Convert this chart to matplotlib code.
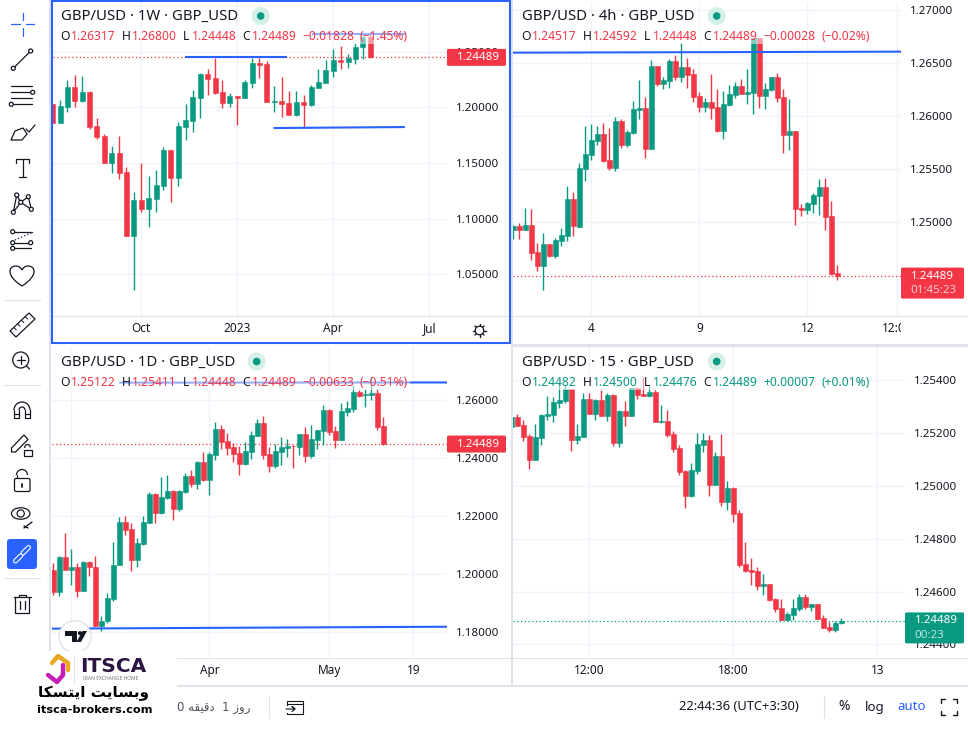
import matplotlib
matplotlib.use("Agg")
import matplotlib.pyplot as plt
from matplotlib.patches import Arc, Circle, Ellipse, FancyBboxPatch, PathPatch, Polygon, Rectangle
from matplotlib.path import Path

W, H = 968, 732
UP = "#089981"
DOWN = "#F23645"
INK = "#131722"
GRID = "#F0F3FA"
EDGE = "#E0E3EB"
BLUE = "#2962FF"
FONT = "Noto Sans"

# weekly candles
w_open = [1.2030, 1.1862, 1.2006, 1.2180, 1.2060, 1.2138, 1.1832, 1.1743, 1.1503, 1.1587, 1.1419, 1.0847, 1.1168, 1.1087, 1.1180, 1.1296, 1.1617, 1.1368, 1.1826, 1.1880, 1.2087, 1.2299, 1.2263, 1.2138, 1.2039, 1.2102, 1.2087, 1.2222, 1.2398, 1.2389, 1.2051, 1.2057, 1.2039, 1.1931, 1.2048, 1.2021, 1.2174, 1.2222, 1.2329, 1.2422, 1.2410, 1.2434, 1.2545, 1.26317]
w_high = [1.2030, 1.2066, 1.2245, 1.2290, 1.2281, 1.2147, 1.1904, 1.1757, 1.1653, 1.1743, 1.1461, 1.1240, 1.1497, 1.1383, 1.1437, 1.1644, 1.1617, 1.1865, 1.2030, 1.2156, 1.2308, 1.2344, 1.2446, 1.2245, 1.2129, 1.2102, 1.2245, 1.2440, 1.2446, 1.2416, 1.2192, 1.2272, 1.2147, 1.2147, 1.2111, 1.2198, 1.2344, 1.2425, 1.2524, 1.2551, 1.2479, 1.2581, 1.2641, 1.26800]
w_low = [1.1862, 1.1862, 1.1961, 1.2006, 1.2051, 1.1802, 1.1719, 1.1503, 1.1413, 1.1359, 1.0847, 1.0359, 1.1063, 1.0928, 1.1063, 1.1257, 1.1153, 1.1296, 1.1707, 1.1781, 1.1907, 1.2111, 1.2120, 1.1997, 1.2006, 1.1841, 1.2087, 1.2177, 1.2266, 1.2051, 1.1961, 1.1916, 1.1934, 1.1925, 1.1811, 1.2012, 1.2174, 1.2222, 1.2272, 1.2344, 1.2353, 1.2389, 1.2434, 1.24448]
w_close = [1.1862, 1.2012, 1.2180, 1.2060, 1.2138, 1.1826, 1.1737, 1.1503, 1.1587, 1.1413, 1.0847, 1.1168, 1.1087, 1.1186, 1.1302, 1.1617, 1.1368, 1.1832, 1.1886, 1.2093, 1.2299, 1.2257, 1.2132, 1.2042, 1.2102, 1.2087, 1.2228, 1.2398, 1.2383, 1.2051, 1.2057, 1.2033, 1.1934, 1.2048, 1.2021, 1.2183, 1.2228, 1.2335, 1.2425, 1.2410, 1.2443, 1.2545, 1.2632, 1.24489]

# 4h candles
h4_open = [1.24924, 1.24962, 1.24924, 1.24969, 1.24713, 1.24587, 1.24789, 1.24679, 1.24824, 1.24868, 1.25217, 1.24956, 1.25501, 1.25633, 1.25769, 1.25832, 1.25586, 1.25513, 1.25958, 1.25728, 1.25838, 1.26058, 1.26077, 1.25690, 1.26474, 1.26304, 1.26336, 1.26521, 1.26370, 1.26465, 1.26399, 1.26191, 1.26087, 1.26134, 1.26087, 1.25860, 1.26106, 1.26200, 1.26285, 1.26210, 1.26222, 1.26736, 1.26191, 1.26247, 1.26367, 1.26181, 1.25822, 1.25860, 1.25132, 1.25117, 1.25170, 1.25246, 1.25331, 1.25057, 1.24517]
h4_high = [1.24972, 1.24987, 1.25132, 1.25123, 1.24805, 1.24893, 1.24789, 1.24849, 1.24940, 1.25340, 1.25287, 1.25554, 1.25907, 1.25926, 1.25907, 1.25932, 1.25885, 1.25989, 1.25970, 1.25869, 1.26140, 1.26342, 1.26181, 1.26531, 1.26474, 1.26373, 1.26540, 1.26578, 1.26688, 1.26547, 1.26446, 1.26225, 1.26169, 1.26399, 1.26257, 1.26238, 1.26295, 1.26326, 1.26351, 1.26446, 1.26736, 1.26736, 1.26310, 1.26367, 1.26408, 1.26257, 1.26162, 1.25860, 1.25170, 1.25192, 1.25277, 1.25406, 1.25416, 1.25198, 1.24592]
h4_low = [1.24843, 1.24839, 1.24924, 1.24641, 1.24537, 1.24357, 1.24672, 1.24663, 1.24773, 1.24824, 1.24868, 1.24956, 1.25391, 1.25586, 1.25728, 1.25567, 1.25491, 1.25482, 1.25696, 1.25712, 1.25832, 1.25970, 1.25608, 1.25690, 1.26285, 1.26257, 1.26269, 1.26342, 1.26326, 1.26263, 1.26137, 1.26043, 1.26043, 1.25973, 1.25847, 1.25784, 1.26096, 1.26169, 1.26210, 1.26112, 1.26021, 1.26080, 1.26068, 1.26241, 1.26137, 1.25655, 1.25680, 1.24972, 1.25057, 1.25079, 1.25082, 1.25066, 1.24924, 1.24499, 1.24448]
h4_close = [1.24965, 1.24924, 1.24969, 1.24710, 1.24587, 1.24789, 1.24682, 1.24830, 1.24874, 1.25214, 1.24962, 1.25510, 1.25643, 1.25775, 1.25832, 1.25576, 1.25513, 1.25954, 1.25728, 1.25851, 1.26068, 1.26077, 1.25690, 1.26474, 1.26304, 1.26342, 1.26518, 1.26373, 1.26465, 1.26392, 1.26181, 1.26090, 1.26134, 1.26080, 1.25860, 1.26112, 1.26210, 1.26285, 1.26210, 1.26229, 1.26736, 1.26191, 1.26257, 1.26367, 1.26172, 1.25825, 1.25860, 1.25123, 1.25117, 1.25180, 1.25252, 1.25331, 1.25047, 1.24509, 1.24489]

# daily candles
d_open = [1.20149, 1.19368, 1.20598, 1.20149, 1.20253, 1.19425, 1.20425, 1.20253, 1.18218, 1.18368, 1.19149, 1.20299, 1.21805, 1.21563, 1.20494, 1.21046, 1.21770, 1.22770, 1.22115, 1.22632, 1.22874, 1.22253, 1.22839, 1.23391, 1.23115, 1.23873, 1.23253, 1.24115, 1.25011, 1.24598, 1.24379, 1.24184, 1.23793, 1.24218, 1.24770, 1.25218, 1.24149, 1.23736, 1.24218, 1.24356, 1.24437, 1.24391, 1.24839, 1.24080, 1.24632, 1.24942, 1.25666, 1.24942, 1.24632, 1.25598, 1.25701, 1.26287, 1.26172, 1.26184, 1.26253, 1.25122]
d_high = [1.20379, 1.20632, 1.21414, 1.20874, 1.20379, 1.20448, 1.20460, 1.20632, 1.18563, 1.19356, 1.21115, 1.21977, 1.22011, 1.21770, 1.21253, 1.22011, 1.22839, 1.22805, 1.23356, 1.23425, 1.22908, 1.22908, 1.23494, 1.23598, 1.23908, 1.24218, 1.24218, 1.25253, 1.25149, 1.24873, 1.24517, 1.24425, 1.24552, 1.24942, 1.25356, 1.25460, 1.24391, 1.24494, 1.24736, 1.24667, 1.24460, 1.24839, 1.25080, 1.25149, 1.24977, 1.25839, 1.25701, 1.25115, 1.25908, 1.25977, 1.26529, 1.26356, 1.26391, 1.26804, 1.26391, 1.25411]
d_low = [1.19264, 1.19230, 1.20149, 1.19632, 1.19218, 1.19425, 1.19920, 1.18195, 1.18023, 1.18310, 1.19057, 1.20299, 1.21356, 1.20092, 1.20253, 1.21011, 1.21770, 1.21770, 1.22080, 1.22598, 1.21874, 1.22184, 1.22805, 1.23011, 1.22942, 1.23218, 1.22736, 1.23942, 1.24322, 1.24115, 1.23873, 1.23425, 1.23770, 1.23977, 1.24770, 1.23977, 1.23529, 1.23667, 1.23770, 1.24046, 1.23667, 1.24115, 1.23873, 1.24011, 1.24322, 1.24460, 1.24804, 1.24356, 1.24632, 1.25460, 1.25598, 1.26115, 1.25770, 1.26011, 1.24977, 1.24448]
d_close = [1.19368, 1.20598, 1.20149, 1.20253, 1.19425, 1.20425, 1.20230, 1.18218, 1.18391, 1.19172, 1.20322, 1.21805, 1.21529, 1.20494, 1.21080, 1.21805, 1.22770, 1.22115, 1.22667, 1.22874, 1.22253, 1.22874, 1.23391, 1.23115, 1.23873, 1.23253, 1.24149, 1.25011, 1.24563, 1.24356, 1.24149, 1.23805, 1.24253, 1.24804, 1.25218, 1.24115, 1.23736, 1.24253, 1.24391, 1.24425, 1.24414, 1.24839, 1.24080, 1.24667, 1.24977, 1.25666, 1.24908, 1.24632, 1.25632, 1.25736, 1.26287, 1.26149, 1.26218, 1.26241, 1.25080, 1.24489]

# 15 minute candles
m15_open = [1.25222, 1.25260, 1.25229, 1.25187, 1.25097, 1.25180, 1.25263, 1.25266, 1.25312, 1.25319, 1.25364, 1.25172, 1.25183, 1.25327, 1.25270, 1.25323, 1.25263, 1.25342, 1.25161, 1.25281, 1.25263, 1.25367, 1.25345, 1.25338, 1.25353, 1.25240, 1.25244, 1.25195, 1.25142, 1.25055, 1.24961, 1.25055, 1.25153, 1.25172, 1.25003, 1.25112, 1.24938, 1.24991, 1.24897, 1.24705, 1.24681, 1.24678, 1.24622, 1.24629, 1.24573, 1.24539, 1.24494, 1.24513, 1.24535, 1.24580, 1.24543, 1.24554, 1.24501, 1.24467, 1.24456, 1.24482]
m15_high = [1.25260, 1.25270, 1.25247, 1.25195, 1.25232, 1.25270, 1.25338, 1.25334, 1.25386, 1.25379, 1.25364, 1.25232, 1.25351, 1.25349, 1.25327, 1.25361, 1.25348, 1.25345, 1.25285, 1.25319, 1.25367, 1.25367, 1.25408, 1.25377, 1.25361, 1.25304, 1.25285, 1.25206, 1.25153, 1.25059, 1.25085, 1.25198, 1.25198, 1.25191, 1.25127, 1.25195, 1.25018, 1.24994, 1.24908, 1.24788, 1.24727, 1.24693, 1.24667, 1.24629, 1.24577, 1.24573, 1.24524, 1.24573, 1.24592, 1.24592, 1.24554, 1.24554, 1.24513, 1.24486, 1.24490, 1.24500]
m15_low = [1.25201, 1.25225, 1.25168, 1.25063, 1.25097, 1.25153, 1.25247, 1.25240, 1.25293, 1.25313, 1.25131, 1.25157, 1.25183, 1.25270, 1.25247, 1.25263, 1.25244, 1.25149, 1.25146, 1.25225, 1.25263, 1.25327, 1.25338, 1.25334, 1.25240, 1.25236, 1.25183, 1.25128, 1.25040, 1.24916, 1.24957, 1.25044, 1.25127, 1.24961, 1.25003, 1.24923, 1.24908, 1.24863, 1.24693, 1.24673, 1.24626, 1.24607, 1.24588, 1.24565, 1.24524, 1.24494, 1.24490, 1.24494, 1.24528, 1.24535, 1.24528, 1.24497, 1.24464, 1.24448, 1.24448, 1.24476]
m15_close = [1.25260, 1.25225, 1.25183, 1.25097, 1.25183, 1.25266, 1.25270, 1.25315, 1.25323, 1.25364, 1.25172, 1.25187, 1.25327, 1.25270, 1.25323, 1.25263, 1.25342, 1.25161, 1.25281, 1.25263, 1.25367, 1.25342, 1.25338, 1.25352, 1.25240, 1.25242, 1.25191, 1.25138, 1.25052, 1.24961, 1.25059, 1.25157, 1.25172, 1.25003, 1.25112, 1.24938, 1.24991, 1.24893, 1.24701, 1.24677, 1.24675, 1.24622, 1.24629, 1.24569, 1.24535, 1.24494, 1.24516, 1.24539, 1.24580, 1.24543, 1.24554, 1.24497, 1.24464, 1.24456, 1.24482, 1.24489]

last_price = 1.24489

# drawn trend lines: (x0, x1, y0, y1) in candle index and price
w_lines = [(17.9, 31.8, 1.2449, 1.2449), (35.1, 47.7, 1.2662, 1.2662), (29.9, 47.7, 1.1814, 1.1823)]
h4_lines = [(-2, 66, 1.26600, 1.26610)]
d_lines = [(11, 67, 1.26609, 1.26615), (-2, 67, 1.18115, 1.18184)]

w_yticks = [1.05, 1.10, 1.15, 1.20, 1.25]
h4_yticks = [1.25, 1.255, 1.26, 1.265, 1.27]
d_yticks = [1.18, 1.20, 1.22, 1.24, 1.26]
m15_yticks = [1.244, 1.246, 1.248, 1.25, 1.252, 1.254]

w_xticks, w_xlabels = [12, 25, 38, 51], ["Oct", "2023", "Apr", "Jul"]
h4_xticks, h4_xlabels = [13, 31, 49, 64], ["4", "9", "12", "12:00"]
d_xticks, d_xlabels = [3, 26, 46, 60], ["", "Apr", "May", "19"]
m15_xticks, m15_xlabels = [13, 37, 61], ["12:00", "18:00", "13"]

w_legend = ["1.26317", "1.26800", "1.24448", "1.24489", "\u22120.01828", "(\u22121.45%)"]
h4_legend = ["1.24517", "1.24592", "1.24448", "1.24489", "\u22120.00028", "(\u22120.02%)"]
d_legend = ["1.25122", "1.25411", "1.24448", "1.24489", "\u22120.00633", "(\u22120.51%)"]
m15_legend = ["1.24482", "1.24500", "1.24476", "1.24489", "+0.00007", "(+0.01%)"]

plt.rcParams["font.family"] = [FONT, "DejaVu Sans"]
fig = plt.figure(figsize=(W / 100, H / 100), dpi=100, facecolor="white")


def add_pane(left, right, top, bottom, xlim, ylim, xticks, xlabels, yticks):
    ax = fig.add_axes([left / W, 1 - bottom / H, (right - left) / W, (bottom - top) / H])
    ax.set_xlim(*xlim)
    ax.set_ylim(*ylim)
    for s in ["top", "left", "right"]:
        ax.spines[s].set_visible(False)
    ax.spines["bottom"].set_color(EDGE)
    ax.yaxis.tick_right()
    ax.set_yticks(yticks)
    ax.set_yticklabels(["%.5f" % v for v in yticks])
    ax.set_xticks(xticks)
    ax.set_xticklabels(xlabels)
    ax.tick_params(axis="y", length=0, pad=6.5, labelsize=8.3, labelcolor=INK)
    ax.tick_params(axis="x", length=0, pad=4.5, labelsize=8.5, labelcolor=INK)
    ax.grid(True, color=GRID, linewidth=1)
    ax.set_axisbelow(True)
    return ax


def candles(ax, o, h, l, c, width):
    xs = list(range(len(o)))
    colors = [UP if c[i] >= o[i] else DOWN for i in xs]
    ax.vlines(xs, l, h, colors=colors, linewidth=1, zorder=3)
    tops = [max(o[i], c[i]) - min(o[i], c[i]) for i in xs]
    bots = [min(o[i], c[i]) for i in xs]
    ax.bar(xs, tops, width=width, bottom=bots, color=colors, edgecolor=colors, linewidth=0.4, zorder=3)


def trend_lines(ax, lines):
    for x0, x1, y0, y1 in lines:
        ax.plot([x0, x1], [y0, y1], color=BLUE, linewidth=1.5, zorder=4, solid_capstyle="butt")


ax_w = add_pane(53, 447, 2, 316, (0.05, 53.4), (1.01258, 1.29461), w_xticks, w_xlabels, w_yticks)
ax_h4 = add_pane(513, 901, 2, 316, (-0.06, 64.6), (1.24112, 1.27079), h4_xticks, h4_xlabels, h4_yticks)
ax_d = add_pane(52, 447, 347, 658, (-0.22, 65.6), (1.17103, 1.27839), d_xticks, d_xlabels, d_yticks)
ax_m = add_pane(513, 905, 347, 658, (0.28, 65.6), (1.24349, 1.25523), m15_xticks, m15_xlabels, m15_yticks)
ax_w.get_xticklabels()[1].set_fontweight("bold")

candles(ax_w, w_open, w_high, w_low, w_close, 0.68)
candles(ax_h4, h4_open, h4_high, h4_low, h4_close, 0.83)
candles(ax_d, d_open, d_high, d_low, d_close, 0.83)
candles(ax_m, m15_open, m15_high, m15_low, m15_close, 0.83)

trend_lines(ax_w, w_lines)
trend_lines(ax_h4, h4_lines)
trend_lines(ax_d, d_lines)

# dotted last price
for ax, col in [(ax_w, DOWN), (ax_h4, DOWN), (ax_d, DOWN), (ax_m, UP)]:
    ax.axhline(last_price, color=col, linewidth=0.9, linestyle=(0, (1, 2)), zorder=2)

# everything else is chrome, drawn in pixel coordinates on top
ov = fig.add_axes([0, 0, 1, 1], zorder=10)
ov.set_xlim(0, W)
ov.set_ylim(H, 0)
ov.axis("off")
ov.patch.set_alpha(0)


def seg(xs, ys, color=INK, lw=0.9, **kw):
    ov.plot(xs, ys, color=color, linewidth=lw, solid_capstyle=kw.pop("cap", "round"), zorder=kw.pop("zorder", 6), **kw)


def dot(x, y, r=2.0, fc="white", ec=INK, lw=0.9):
    ov.add_patch(Circle((x, y), r, facecolor=fc, edgecolor=ec, linewidth=lw, zorder=7))


def label(x, y, s, color=INK, size=8.5, ha="left", weight="normal", **kw):
    return ov.text(x, y, s, color=color, fontsize=size, ha=ha, va="center", fontweight=weight, zorder=kw.pop("zorder", 8), **kw)


# white under the price column so that the "12:00" label gets cut off
ov.add_patch(Rectangle((901, 317), 67, 27, facecolor="white", edgecolor="none", zorder=1))

# gutters
ov.add_patch(Rectangle((48.5, 0), 2.5, 686, facecolor=EDGE, edgecolor="none", zorder=2))
ov.add_patch(Rectangle((510.5, 0), 2, 686, facecolor=EDGE, edgecolor="none", zorder=2))
ov.add_patch(Rectangle((511, 344), 457, 2.5, facecolor=EDGE, edgecolor="none", zorder=2))
ov.add_patch(Rectangle((51, 685), 917, 1.5, facecolor=EDGE, edgecolor="none", zorder=2))
seg([447, 510], [316, 316], color=EDGE, lw=0.8)
seg([447, 511], [658, 658], color=EDGE, lw=0.8)
seg([901, 968], [316, 316], color=EDGE, lw=0.8)
seg([905, 968], [658, 658], color=EDGE, lw=0.8)
ov.add_patch(Rectangle((52, 1), 458, 342, facecolor="none", edgecolor=BLUE, linewidth=1.5, zorder=7))

# pane legends
seg_x = [60, 70.7, 121.7, 132, 183, 191.7, 242, 251.7, 302.7, 360]
for x0, y0, title, values, col, dot_x in [
    (0, 0, "GBP/USD \u00b7 1W \u00b7 GBP_USD", w_legend, DOWN, 260.7),
    (461, 0, "GBP/USD \u00b7 4h \u00b7 GBP_USD", h4_legend, DOWN, 716.7),
    (0, 345.5, "GBP/USD \u00b7 1D \u00b7 GBP_USD", d_legend, DOWN, 256.7),
    (461, 345.5, "GBP/USD \u00b7 15 \u00b7 GBP_USD", m15_legend, UP, 716.7),
]:
    ov.add_patch(Rectangle((x0 + 57, y0 + 30), 353, 14, facecolor="white", edgecolor="none", alpha=0.5, zorder=3))
    label(x0 + 61, y0 + 16.5, title, size=10.7)
    ov.add_patch(Circle((dot_x, y0 + 16), 9, facecolor="#D5EFE9", edgecolor="none", zorder=4))
    ov.add_patch(Circle((dot_x, y0 + 16), 3.8, facecolor=UP, edgecolor="none", zorder=5))
    for i, letter in enumerate("OHLC"):
        label(x0 + seg_x[i * 2], y0 + 36.5, letter, size=8.7)
        label(x0 + seg_x[i * 2 + 1], y0 + 36.5, values[i], color=col, size=8.7)
    label(x0 + seg_x[8], y0 + 36.5, values[4], color=col, size=8.7)
    label(x0 + seg_x[9], y0 + 36.5, values[5], color=col, size=8.7)


def tag(ax, x0, x1, h, color, lines):
    y = H - ax.transData.transform((0, last_price))[1]
    top = y - 8.5
    ov.add_patch(FancyBboxPatch((x0 + 1, top + 1), x1 - x0 - 2, h - 2, boxstyle="round,pad=1,rounding_size=1.5",
                                facecolor=color, edgecolor="none", zorder=7))
    label(x0 + 9.5, y, lines[0], color="white", size=8.3, zorder=9)
    if len(lines) > 1:
        label(x0 + 9.5, y + 14.5, lines[1], color="white", size=8.3, alpha=0.75, zorder=9)


price_text = "%.5f" % last_price
tag(ax_w, 447, 506, 17, DOWN, [price_text])
tag(ax_d, 447, 506, 17, DOWN, [price_text])
tag(ax_h4, 901, 964, 31, DOWN, [price_text, "01:45:23"])
tag(ax_m, 905, 964, 31, UP, [price_text, "00:23"])

# settings gear of the first pane
dot(479.5, 330.5, 4.3, ec=INK)
for dx, dy in [(0, -6.3), (0, 6.3), (-6.3, 0), (6.3, 0), (-4.5, -4.5), (4.5, -4.5), (-4.5, 4.5), (4.5, 4.5)]:
    seg([479.5 + dx * 0.7, 479.5 + dx], [330.5 + dy * 0.7, 330.5 + dy], lw=1)

# left toolbar
seg([11, 19.5], [24.3, 24.3], color=BLUE)
seg([26, 34.3], [24.3, 24.3], color=BLUE)
seg([22.7, 22.7], [13.3, 20], color=BLUE)
seg([22.7, 22.7], [28.3, 35.7], color=BLUE)

seg([13.3, 30.7], [68.3, 51])
dot(13.3, 68.3)
dot(30.7, 51)

for yy in [86, 92.3, 98.3, 104.3]:
    seg([11, 32], [yy, yy])
dot(32.7, 92.3)
dot(11.3, 104.3)

ov.add_patch(Polygon([(11, 140), (15, 131), (23, 128), (27, 134), (22, 140)], closed=True, facecolor="white", edgecolor=INK, linewidth=0.9, zorder=6))
seg([26, 29, 35], [129, 132, 125])

seg([16, 16, 29, 29], [163, 159.3, 159.3, 163])
seg([22.5, 22.5], [159.3, 176.5])
seg([19, 26], [176.5, 176.5])

seg([13.3, 16.7, 20.7, 28.3, 31.3, 20.7, 13.3], [212.3, 195, 202.3, 196.7, 209.3, 202.3, 212.3])
for px, py in [(13.3, 212.3), (16.7, 195), (28.3, 196.7), (20.7, 202.3), (31.3, 209.3)]:
    dot(px, py)

seg([12.7, 32], [231.7, 231.7])
seg([12.7, 31], [242.7, 242.7])
seg([12.7, 31], [248.3, 248.3])
seg([15, 31], [240, 233], linestyle=":")
for px, py in [(12.7, 231.7), (12.7, 242.7), (30.7, 242.7), (12.7, 248.3)]:
    dot(px, py)

heart = Path([(22, 286), (6, 276), (8, 266), (16, 266), (19, 266), (21, 268), (22, 270), (23, 268), (25, 266), (28, 266), (36, 266), (38, 276), (22, 286)],
             [Path.MOVETO] + [Path.CURVE4] * 12)
ov.add_patch(PathPatch(heart, facecolor="white", edgecolor=INK, linewidth=0.9, zorder=6))

for yy in [300, 385, 578]:
    seg([4, 40], [yy, yy], color=EDGE)

# ruler
ov.add_patch(Polygon([(10, 331), (29, 313), (35, 319), (16, 337)], closed=True, facecolor="white", edgecolor=INK, linewidth=0.9, zorder=6))
for t in [0.2, 0.4, 0.6, 0.8]:
    seg([10 + 19 * t, 12.5 + 19 * t], [331 - 18 * t, 333.5 - 18 * t], lw=0.7)

# magnifier
dot(20.7, 360, 8)
seg([16.7, 24.7], [360, 360], zorder=8)
seg([20.7, 20.7], [356, 364], zorder=8)
seg([26.5, 29.5], [366, 369])

# magnet
ov.add_patch(Arc((22, 410), 16, 16, theta1=180, theta2=360, edgecolor=INK, linewidth=0.9, zorder=6))
ov.add_patch(Arc((22, 410), 6, 6, theta1=180, theta2=360, edgecolor=INK, linewidth=0.9, zorder=6))
seg([14, 14, 19, 19], [410, 418, 418, 410])
seg([25, 25, 30, 30], [410, 418, 418, 410])
seg([14, 19], [414, 414])
seg([25, 30], [414, 414])

# pencil with lock
ov.add_patch(Polygon([(11.5, 448), (24, 435), (28, 439.5), (15.5, 452), (11.5, 452)], closed=True, facecolor="white", edgecolor=INK, linewidth=0.9, zorder=6))
ov.add_patch(Rectangle((23.5, 450), 8, 5.5, facecolor="white", edgecolor=INK, linewidth=0.9, zorder=7))
ov.add_patch(Arc((27.5, 447.5), 5.5, 6, theta1=170, theta2=360, edgecolor=INK, linewidth=0.9, zorder=7))

# lock
ov.add_patch(FancyBboxPatch((15, 479), 14.5, 12, boxstyle="round,pad=0.5,rounding_size=1.5", facecolor="white", edgecolor=INK, linewidth=0.9, zorder=6))
ov.add_patch(Arc((22, 475), 11, 11, theta1=180, theta2=360, edgecolor=INK, linewidth=0.9, zorder=6))
seg([16.5, 16.5], [475, 478])
seg([22, 22], [484, 487], lw=1.3)

# eye with brush
ov.add_patch(Ellipse((20.7, 513.5), 18.5, 11.5, facecolor="white", edgecolor=INK, linewidth=0.9, zorder=6))
dot(20.7, 513.5, 3.6)
seg([24, 32], [528, 522], lw=1)
seg([24, 28], [526, 528], lw=1)

# active link button
ov.add_patch(FancyBboxPatch((8, 540), 28, 28, boxstyle="round,pad=1,rounding_size=3", facecolor=BLUE, edgecolor="none", zorder=6))
for cx0, cy0, cx1, cy1 in [(15.5, 561, 21, 555.5), (23, 553, 28.5, 547.5)]:
    seg([cx0, cx1], [cy0, cy1], color="white", lw=3.6, zorder=7)
    seg([cx0, cx1], [cy0, cy1], color=BLUE, lw=2, zorder=7)

# trash
seg([13.5, 30.5], [597, 597])
seg([18.5, 18.5, 25.5, 25.5], [597, 595, 595, 597])
seg([15, 15, 29, 29], [597, 613, 613, 597])
seg([19.5, 19.5], [601, 609])
seg([24.5, 24.5], [601, 609])

# tradingview badge
ov.add_patch(Circle((75, 636.7), 16, facecolor="white", edgecolor=EDGE, linewidth=1, zorder=6))
ov.add_patch(Polygon([(65, 631), (77, 631), (77, 642), (71.5, 642), (71.5, 635.5), (65, 635.5)], closed=True, facecolor=INK, edgecolor="none", zorder=7))
ov.add_patch(Polygon([(82.5, 631), (87, 631), (81, 642), (76.5, 642)], closed=True, facecolor=INK, edgecolor="none", zorder=7))
ov.add_patch(Circle((80, 633.2), 2.1, facecolor=INK, edgecolor="none", zorder=7))

# broker watermark
ov.add_patch(Rectangle((0, 651), 177, 66, facecolor="white", edgecolor="none", zorder=8))
seg([52, 58, 68, 68], [663, 656, 663, 670], color="#E9A820", lw=3.2, zorder=9)
seg([63, 63, 57, 48], [665, 675, 682, 675], color="#C51FB5", lw=3.2, zorder=9)
seg([74, 74], [655, 683], color=EDGE, lw=0.8, zorder=9)
ov.text(80, 666, "ITSCA", color="#2B1440", fontsize=14.5, fontweight="bold", va="center", ha="left", zorder=9, family="DejaVu Sans")
ov.text(111, 678.5, "IRAN EXCHANGE HOME", color="#777777", fontsize=3.6, va="center", ha="center", zorder=9)
# arabic script is written in presentation forms, in visual order, because matplotlib does not shape it
site_fa = "\uFE8E\uFB91\uFEB4\uFE98\uFBFE\uFE8D \uFE96\uFBFE\uFE8E\uFEB4\uFE91\uFEED"
ov.text(94, 693.5, site_fa, color="black", fontsize=11, fontweight="bold", va="center", ha="center", zorder=9, family="DejaVu Sans")
ov.text(94.5, 710, "itsca-brokers.com", color="black", fontsize=8.2, fontweight="bold", va="center", ha="center", zorder=9, family="DejaVu Sans")

# bottom bar
minute_fa = "0 \uFEEA\uFED8\uFBFF\uFED7\uFEA9"
day_fa = "1 \uFEAF\uFEED\uFEAD"
ov.text(177, 707, minute_fa, color="#50535E", fontsize=8.5, va="center", ha="left", zorder=9, family="DejaVu Sans")
ov.text(222, 707, day_fa, color="#50535E", fontsize=8.5, va="center", ha="left", zorder=9, family="DejaVu Sans")
seg([269, 269], [696, 718], color=EDGE)
seg([824, 824], [696, 718], color=EDGE)
ov.add_patch(Rectangle((287, 700.5), 16, 13, facecolor="none", edgecolor=INK, linewidth=0.8, zorder=6))
seg([287, 303], [703.5, 703.5], lw=0.8)
ov.add_patch(Rectangle((285, 705.5), 6, 7, facecolor="white", edgecolor="none", zorder=6))
seg([286, 295, 292, 295, 292], [709, 709, 706.5, 709, 711.5], lw=0.8, zorder=7)
label(679, 707, "22:44:36 (UTC+3:30)", size=9.3)
label(844, 707, "%", ha="center", size=10)
label(874.5, 707, "log", ha="center", size=9.5)
label(912, 707, "auto", ha="center", size=9.5, color=BLUE)
for cx, cy, dx, dy in [(941, 699, 1, 1), (957, 699, -1, 1), (941, 715, 1, -1), (957, 715, -1, -1)]:
    seg([cx + dx * 4, cx, cx], [cy, cy, cy + dy * 4], lw=1)

fig.savefig("out.png", dpi=100)
